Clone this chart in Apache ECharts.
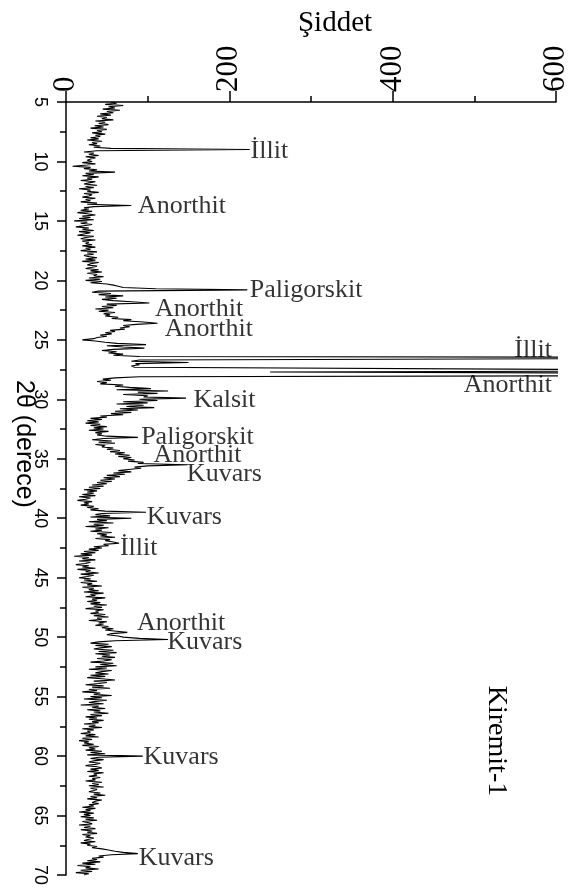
<!DOCTYPE html>
<html>
<head>
<meta charset="utf-8">
<script src="https://cdn.jsdelivr.net/npm/echarts@6/dist/echarts.min.js"></script>
<style>html,body{margin:0;padding:0;background:#fff;}#c{width:574px;height:891px;}</style>
</head>
<body>
<div id="c"></div>
<script>
// 2θ sampling grid (degrees)
const thetaStart = 5;
const thetaStep = 0.1;
const intensity = [
  55,62,48,70,52,60,45,66,50,58,   // 5
  42,55,38,50,44,58,36,48,40,52,   // 6
  35,46,30,50,38,44,32,48,36,42,   // 7
  30,40,26,44,32,38,28,42,34,55,   // 8
  225,38,22,34,28,40,24,36,30,26,  // 9
  32,20,36,26,8,30,22,38,28,60,    // 10
  24,34,20,40,26,32,18,36,28,22,   // 11
  38,24,34,16,30,26,40,22,32,28,   // 12
  20,36,24,30,18,38,26,80,34,22,   // 13
  28,18,32,14,26,36,20,30,16,34,   // 14
  10,26,18,32,22,12,28,20,34,16,   // 15
  30,22,14,34,24,18,36,20,28,24,   // 16
  32,20,36,24,30,18,38,26,34,22,   // 17
  28,38,24,36,20,40,30,26,38,32,   // 18
  24,40,30,44,26,38,34,46,28,42,   // 19
  24,44,30,50,58,64,70,110,222,40, // 20
  32,55,40,70,48,62,44,58,80,102,  // 21
  50,62,44,58,36,52,40,60,46,54,   // 22
  48,64,56,80,70,95,112,86,70,78,  // 23
  66,72,54,60,48,56,42,50,38,34,   // 24
  20,36,48,62,98,50,70,96,58,44,   // 25
  62,52,70,58,90,1000,1000,90,80,150, // 26
  85,90,80,84,85,650,900,250,700,1000, // 27
  800,90,60,45,55,38,50,42,70,60,  // 28
  78,104,62,125,88,112,70,100,95,147, // 29
  90,112,70,100,62,95,74,108,66,88, // 30
  60,80,55,70,42,50,30,44,26,40,   // 31
  24,42,30,50,34,46,28,52,36,44,   // 32
  38,50,88,46,32,56,40,60,36,48,   // 33
  44,58,50,66,54,72,60,78,64,80,   // 34
  70,84,76,95,88,149,100,84,92,76, // 35
  64,80,58,72,50,66,46,60,42,56,   // 36
  38,50,32,46,28,42,22,38,26,34,   // 37
  20,36,16,30,24,14,32,22,28,18,   // 38
  34,26,40,30,48,98,44,36,54,30,   // 39
  80,38,50,28,58,34,46,24,52,36,   // 40
  44,30,56,38,50,42,60,36,54,48,   // 41
  58,65,46,52,34,44,28,40,22,36,   // 42
  18,32,10,28,20,36,16,30,24,12,   // 43
  28,20,36,14,30,24,40,18,34,26,   // 44
  16,30,22,38,18,32,26,44,20,34,   // 45
  28,40,22,46,30,36,24,48,32,38,   // 46
  26,42,30,50,34,44,24,46,36,40,   // 47
  30,48,34,52,38,44,28,50,40,46,   // 48
  36,52,44,58,48,62,75,56,50,64,   // 49
  70,90,125,60,40,30,52,36,56,42,  // 50
  34,58,40,62,36,54,44,60,38,56,   // 51
  46,30,58,42,62,36,50,28,56,44,   // 52
  36,52,30,48,26,44,60,34,50,40,   // 53
  24,46,32,54,28,38,20,42,34,56,   // 54
  30,44,22,50,36,28,46,18,40,32,   // 55
  48,26,42,34,52,30,44,24,38,28,   // 56
  46,32,40,22,36,28,44,20,34,26,   // 57
  30,18,36,24,40,20,32,16,28,22,   // 58
  34,20,40,28,36,24,44,30,48,26,   // 59
  94,40,30,46,34,28,42,36,24,38,   // 60
  44,30,40,26,46,34,38,28,42,32,   // 61
  36,24,44,32,40,28,46,30,38,34,   // 62
  28,42,34,48,30,38,26,44,36,32,   // 63
  40,28,34,20,36,24,30,16,34,22,   // 64
  30,18,34,24,38,20,28,32,16,30,   // 65
  22,36,18,32,26,38,20,30,24,34,   // 66
  28,22,36,18,30,26,38,32,44,52,   // 67
  60,70,88,56,40,46,32,38,26,42,   // 68
  20,36,14,30,24,40,18,32,12,28,   // 69
  22                               // 70
];

// Peak annotations
const labelNames = ['İllit','Anorthit','Paligorskit','Anorthit','Anorthit','İllit','Anorthit','Kalsit','Paligorskit','Anorthit','Kuvars','Kuvars','İllit','Anorthit','Kuvars','Kuvars','Kuvars'];
const labelTheta = [9.1,13.8,20.85,22.4,24.1,25.85,28.85,30.05,33.17,34.69,36.3,39.9,42.5,48.86,50.4,60.08,68.55];
const labelIntensity = [226,88,225,109,121,595,595,156,92,107,148,99,66,87,124,95,89];
const labelSide = ['right','right','right','right','right','left','left','right','right','right','right','right','right','right','right','right','right'];

// Axis ticks
const xTicks = [0, 200, 400, 600];
const yTicks = [5, 10, 15, 20, 25, 30, 35, 40, 45, 50, 55, 60, 65, 70];

const lineData = intensity.map((v, i) => [v, +(thetaStart + i * thetaStep).toFixed(2)]);
const labelData = labelNames.map((n, i) => ({
  value: [labelIntensity[i], labelTheta[i]],
  name: n,
  label: { position: labelSide[i] }
}));

const chart = echarts.init(document.getElementById('c'), null, { renderer: 'canvas' });
chart.setOption({
  animation: false,
  backgroundColor: '#fff',
  grid: { left: 66, right: 18, top: 102, bottom: 16, containLabel: false },
  xAxis: {
    type: 'value', position: 'top',
    min: xTicks[0], max: xTicks[xTicks.length - 1], interval: 200,
    axisLine: { show: true, lineStyle: { color: '#000', width: 1.5 } },
    axisTick: { show: true, length: 11, lineStyle: { color: '#000', width: 1.5 } },
    minorTick: { show: true, splitNumber: 2, length: 6, lineStyle: { color: '#000', width: 1.5 } },
    axisLabel: { rotate: -90, margin: 10, color: '#000', fontFamily: 'Liberation Serif', fontSize: 31 },
    splitLine: { show: false }
  },
  yAxis: {
    type: 'value', inverse: true,
    min: yTicks[0], max: yTicks[yTicks.length - 1], interval: 5,
    axisLine: { show: true, lineStyle: { color: '#000', width: 1.5 } },
    axisTick: { show: true, length: 9, lineStyle: { color: '#000', width: 1.5 } },
    minorTick: { show: true, splitNumber: 2, length: 6, lineStyle: { color: '#000', width: 1.5 } },
    axisLabel: { rotate: -90, margin: 17, color: '#000', fontFamily: 'Liberation Sans', fontSize: 18 },
    splitLine: { show: false }
  },
  graphic: [
    { type: 'text', x: 335, y: 23, style: { text: 'Şiddet', font: '29px "Liberation Serif"', fill: '#000', align: 'center', verticalAlign: 'middle', textAlign: 'center', textVerticalAlign: 'middle' } },
    { type: 'text', x: 24, y: 444, rotation: -Math.PI / 2, style: { text: '2θ (derece)', font: '25px "Liberation Sans"', fill: '#000', align: 'center', verticalAlign: 'middle', textAlign: 'center', textVerticalAlign: 'middle' } },
    { type: 'text', x: 496, y: 741, rotation: -Math.PI / 2, style: { text: 'Kiremit-1', font: '28px "Liberation Serif"', fill: '#000', align: 'center', verticalAlign: 'middle', textAlign: 'center', textVerticalAlign: 'middle' } }
  ],
  series: [
    {
      type: 'line', data: lineData, showSymbol: false, symbol: 'none', clip: true,
      lineStyle: { color: '#000', width: 1.1 }, silent: true
    },
    {
      type: 'scatter', data: labelData, symbolSize: 0, silent: true,
      label: {
        show: true, distance: 0, formatter: p => p.name, color: '#000',
        fontFamily: 'Liberation Serif', fontSize: 26
      }
    }
  ]
});
</script>
</body>
</html>
